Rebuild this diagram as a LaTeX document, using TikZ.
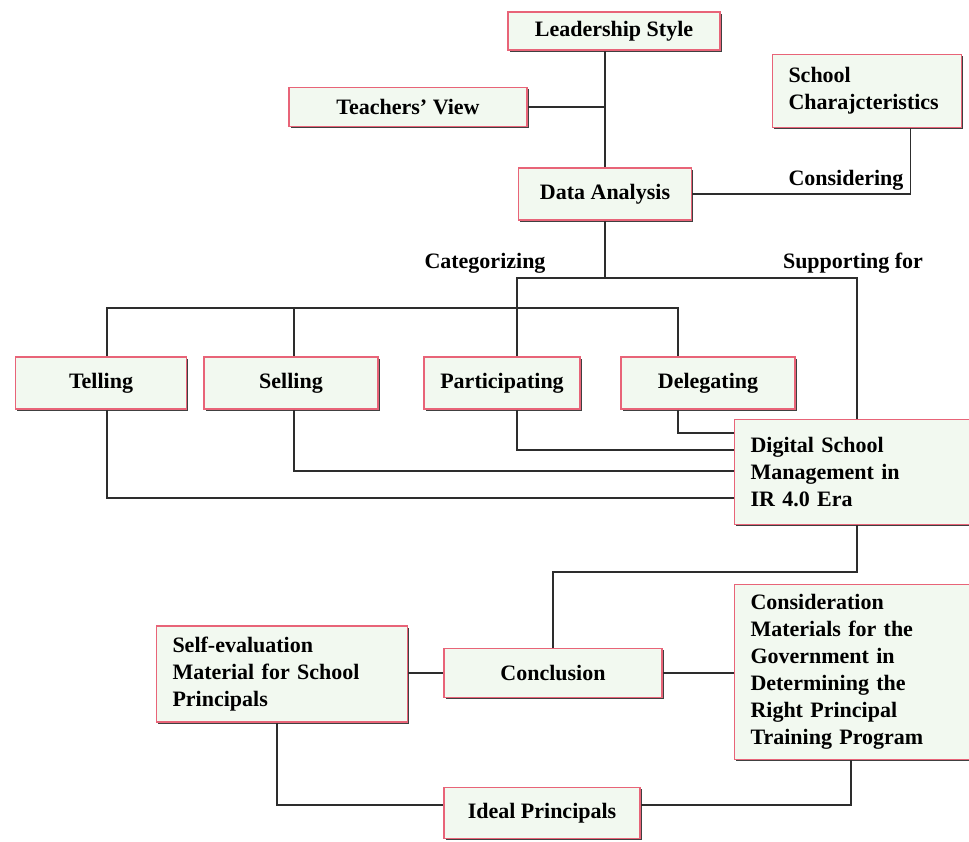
\documentclass[tikz,border=0pt]{standalone}
\usepackage{fontspec}
\setmainfont{Liberation Serif}
\usetikzlibrary{shadows}
\definecolor{boxfill}{RGB}{242,249,240}
\definecolor{boxline}{RGB}{232,100,120}
\definecolor{wire}{RGB}{45,45,45}
\tikzset{
  box/.style={draw=boxline,fill=boxfill,line width=1.6pt,inner sep=0pt,
    drop shadow={shadow xshift=1.6pt,shadow yshift=-1.6pt,fill=black!75,opacity=1},
    font=\bfseries\fontsize{22}{27}\selectfont},
  tbox/.style={box,align=left,inner xsep=16pt,text width=#1},
  lbl/.style={font=\bfseries\fontsize{22}{27}\selectfont}
}
\begin{document}
\begin{tikzpicture}[x=1pt,y=-1pt]
        \useasboundingbox (0,0) rectangle (969,842);

        \begin{scope}[every node/.style={box}]
          \node[minimum width=212pt,minimum height=38pt] (1) at (614,31) {Leadership Style};
          \node[minimum width=238pt,minimum height=39pt] (2) at (408,107) {Teachers' View};
          \node[tbox=157pt,minimum height=73pt] (3) at (867,91) {School\\Charajcteristics};
          \node[minimum width=173pt,minimum height=52pt] (4) at (605,194) {Data Analysis};
          \node[minimum width=171pt,minimum height=52pt] (5) at (101,383) {Telling};
          \node[minimum width=174pt,minimum height=52pt] (6) at (291,383) {Selling};
          \node[minimum width=156pt,minimum height=52pt] (7) at (502,383) {Participating};
          \node[minimum width=174pt,minimum height=52pt] (8) at (708,383) {Delegating};
          \node[tbox=205pt,minimum height=105pt] (9) at (853,472) {Digital School\\Management in\\IR 4.0 Era};
          \node[tbox=219pt,minimum height=96pt] (10) at (282,674) {Self-evaluation\\Material for School\\Principals};
          \node[minimum width=218pt,minimum height=49pt] (11) at (553,673) {Conclusion};
          \node[tbox=205pt,minimum height=175pt] (12) at (853,672) {Consideration\\Materials for the\\Government in\\Determining the\\Right Principal\\Training Program};
          \node[minimum width=196pt,minimum height=51pt] (13) at (542,813) {Ideal Principals};
        \end{scope}

        \begin{scope}[every node/.style={lbl}]
          \node (c1) at (846,180) {Considering};
          \node (c2) at (485,263) {Categorizing};
          \node (c3) at (853,263) {Supporting for};
        \end{scope}

        \coordinate (a) at (517,278);
        \coordinate (b) at (857,278);
        \coordinate (c) at (107,308);
        \coordinate (d) at (678,308);
        \coordinate (e) at (294,308);

        \begin{scope}[draw=wire,line width=1.5pt]
          \draw (4.north) -- (4 |- 1.south);
          \draw (2.east) -- (2 -| 4);
          \draw (4.east) -| ([xshift=-52pt]3.south east);
          \draw (4.south) -- (4 |- a);
          \draw (7.north -| a) -- (a) -- (b) -- (9.north -| b);
          \draw (5.north -| c) -- (c) -- (d) -- (8.north -| d);
          \draw (e) -- (6.north -| e);
          \draw (8.south -| d) |- (9.west |- 0,433);
          \draw (7.south -| a) |- (9.west |- 0,450);
          \draw (6.south -| e) |- (9.west |- 0,471);
          \draw (5.south -| c) |- (9.west |- 0,498);
          \draw (9.south -| b) -- (b |- 0,572) -| (11.north);
          \draw (10.east |- 11) -- (11.west);
          \draw (11.east) -- (11.east -| 12.west);
          \draw (10.south -| 277,0) |- (13.west |- 0,805);
          \draw (12.south -| 851,0) |- (13.east |- 0,805);
        \end{scope}

      \end{tikzpicture}
\end{document}
